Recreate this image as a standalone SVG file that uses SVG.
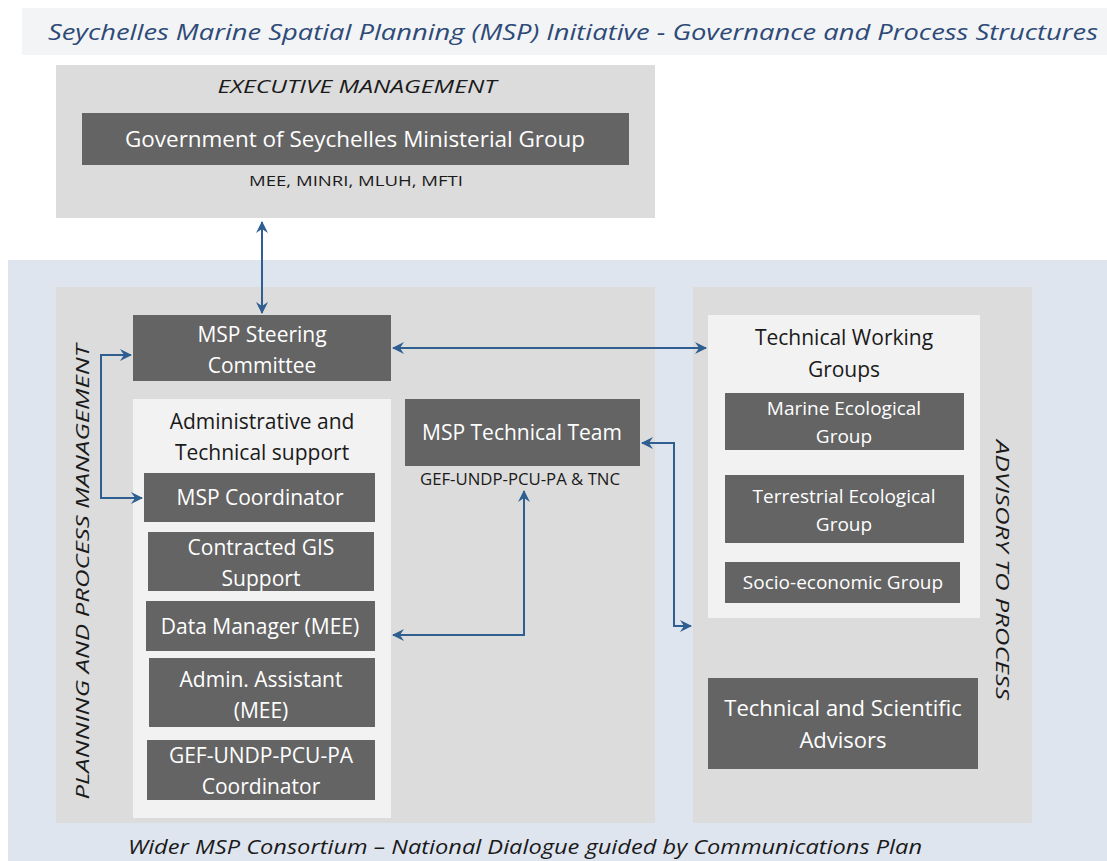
<svg xmlns="http://www.w3.org/2000/svg" width="1107" height="861" viewBox="0 0 1107 861">
<defs>
<marker id="ah" viewBox="0 0 12 12" refX="11" refY="6" markerWidth="12" markerHeight="12" markerUnits="userSpaceOnUse" orient="auto-start-reverse">
<path d="M0,0 L12,6 L0,12 L4,6 Z" fill="#2f5f91"/>
</marker>
<style>
.panel{fill:#dcdcdc}
.light{fill:#f2f2f2}
.dark{fill:#646464}
.wt{font-family:"Open Sans",Lato,sans-serif;fill:#ffffff;text-anchor:middle}
.bt{font-family:"Open Sans",Lato,sans-serif;fill:#1a1a1a;text-anchor:middle}
.it{font-style:italic}
.conn{fill:none;stroke:#2f5f91;stroke-width:2;marker-start:url(#ah);marker-end:url(#ah)}
</style>
</defs>
<rect width="1107" height="861" fill="#ffffff"/>
<rect x="22" y="8" width="1085" height="47" fill="#f3f4f6"/>
<text x="573" y="40" class="bt it" style="fill:#2e4a78" font-size="22" textLength="1050" lengthAdjust="spacingAndGlyphs">Seychelles Marine Spatial Planning (MSP) Initiative - Governance and Process Structures</text>
<rect x="8" y="260" width="1099" height="601" fill="#dfe5ef"/>

<g id="executive">
<rect class="panel" x="56" y="65" width="599" height="153"/>
<text x="357" y="93" class="bt it" font-size="19" textLength="279" lengthAdjust="spacingAndGlyphs">EXECUTIVE  MANAGEMENT</text>
</g>
<g id="gov">
<rect class="dark" x="82" y="113" width="547" height="52"/>
<text x="355" y="147" class="wt" font-size="22" textLength="460" lengthAdjust="spacingAndGlyphs">Government  of Seychelles Ministerial Group</text>
<text x="356" y="186" class="bt" font-size="14" textLength="214" lengthAdjust="spacingAndGlyphs">MEE, MINRI, MLUH,  MFTI</text>
</g>

<g id="planning">
<rect class="panel" x="56" y="287" width="599" height="536"/>
<text transform="translate(89,572) rotate(-90)" x="0" y="0" class="bt it" font-size="18" textLength="455" lengthAdjust="spacingAndGlyphs">PLANNING AND PROCESS MANAGEMENT</text>
</g>
<g id="advisory">
<rect class="panel" x="693" y="287" width="339" height="536"/>
<text transform="translate(996,570) rotate(90)" x="0" y="0" class="bt it" font-size="18" textLength="260" lengthAdjust="spacingAndGlyphs">ADVISORY  TO PROCESS</text>
</g>

<g id="steering">
<rect class="dark" x="133" y="315" width="258" height="66"/>
<text x="262" y="342" class="wt" font-size="21">MSP Steering</text>
<text x="262" y="373" class="wt" font-size="21">Committee</text>
</g>
<g id="admin-support">
<rect class="light" x="133" y="399" width="258" height="419"/>
<text x="262" y="429" class="bt" font-size="21">Administrative and</text>
<text x="262" y="460" class="bt" font-size="21">Technical support</text>
</g>
<g id="coordinator">
<rect class="dark" x="144" y="473" width="231" height="49"/>
<text x="260" y="505" class="wt" font-size="21">MSP Coordinator</text>
</g>
<g id="gis">
<rect class="dark" x="148" y="532" width="226" height="59"/>
<text x="261" y="555" class="wt" font-size="21">Contracted GIS</text>
<text x="261" y="586" class="wt" font-size="21">Support</text>
</g>
<g id="data-manager">
<rect class="dark" x="146" y="601" width="229" height="50"/>
<text x="260" y="634" class="wt" font-size="21">Data Manager (MEE)</text>
</g>
<g id="admin-assistant">
<rect class="dark" x="149" y="658" width="226" height="69"/>
<text x="261" y="687" class="wt" font-size="21">Admin. Assistant</text>
<text x="261" y="718" class="wt" font-size="21">(MEE)</text>
</g>
<g id="gef-coordinator">
<rect class="dark" x="147" y="740" width="228" height="60"/>
<text x="261" y="763" class="wt" font-size="21">GEF-UNDP-PCU-PA</text>
<text x="261" y="794" class="wt" font-size="21">Coordinator</text>
</g>

<g id="technical-team">
<rect class="dark" x="405" y="399" width="235" height="67"/>
<text x="522" y="440" class="wt" font-size="21">MSP Technical Team</text>
<text x="520" y="485" class="bt" font-size="16" textLength="200" lengthAdjust="spacingAndGlyphs">GEF-UNDP-PCU-PA &amp; TNC</text>
</g>

<g id="working-groups">
<rect class="light" x="708" y="315" width="272" height="303"/>
<text x="844" y="345" class="bt" font-size="21">Technical  Working</text>
<text x="844" y="377" class="bt" font-size="21">Groups</text>
</g>
<g id="marine">
<rect class="dark" x="725" y="393" width="239" height="57"/>
<text x="844" y="415" class="wt" font-size="19">Marine Ecological</text>
<text x="844" y="443" class="wt" font-size="19">Group</text>
</g>
<g id="terrestrial">
<rect class="dark" x="725" y="475" width="239" height="68"/>
<text x="844" y="503" class="wt" font-size="19">Terrestrial Ecological</text>
<text x="844" y="531" class="wt" font-size="19">Group</text>
</g>
<g id="socio">
<rect class="dark" x="725" y="562" width="235" height="41"/>
<text x="843" y="589" class="wt" font-size="19">Socio-economic Group</text>
</g>
<g id="advisors">
<rect class="dark" x="708" y="678" width="270" height="91"/>
<text x="843" y="716" class="wt" font-size="22">Technical and Scientific</text>
<text x="843" y="748" class="wt" font-size="22">Advisors</text>
</g>

<text x="525" y="854" class="bt it" font-size="20" textLength="794" lengthAdjust="spacingAndGlyphs">Wider MSP Consortium – National Dialogue guided by Communications Plan</text>

<g id="connectors">
<path class="conn" d="M262,222 L262,313"/>
<path class="conn" d="M393,348 L706,348"/>
<path class="conn" d="M131,355 L101,355 L101,498 L142,498"/>
<path class="conn" d="M393,635 L524,635 L524,491"/>
<path class="conn" d="M642,443 L674,443 L674,626 L691,626"/>
</g>
</svg>
